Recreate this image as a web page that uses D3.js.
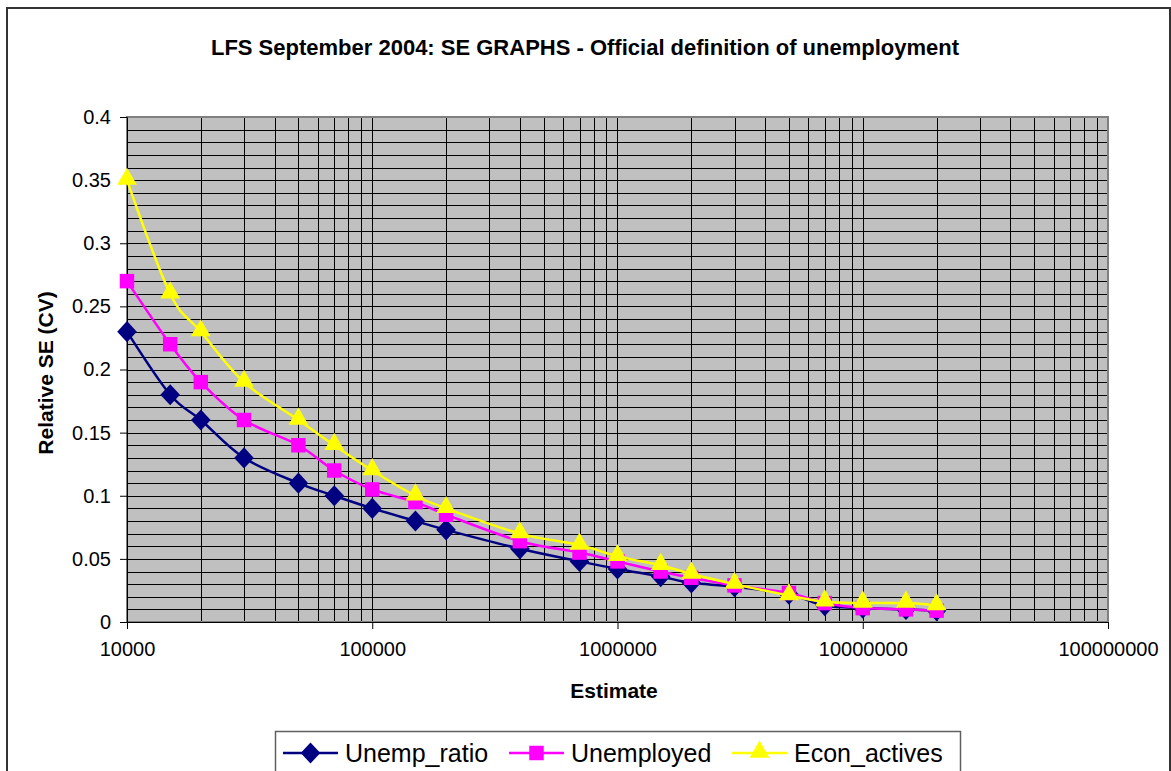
<!DOCTYPE html>
<html>
<head>
<meta charset="utf-8">
<script src="https://cdn.jsdelivr.net/npm/d3@7"></script>
<style>
  body { margin: 0; background: #fff; }
  text { font-family: Arial, "Liberation Sans", sans-serif; }
</style>
</head>
<body>
<svg id="chart"></svg>
<script>
const estimates = [10000, 15000, 20000, 30000, 50000, 70000, 100000, 150000, 200000, 400000,
  700000, 1000000, 1500000, 2000000, 3000000, 5000000, 7000000, 10000000, 15000000, 20000000];
const unempRatio = [0.23, 0.18, 0.16, 0.13, 0.11, 0.10, 0.09, 0.08, 0.073, 0.058,
  0.048, 0.042, 0.036, 0.031, 0.028, 0.022, 0.013, 0.011, 0.010, 0.009];
const unemployed = [0.27, 0.22, 0.19, 0.16, 0.14, 0.12, 0.105, 0.095, 0.085, 0.064,
  0.055, 0.048, 0.040, 0.035, 0.029, 0.023, 0.015, 0.011, 0.010, 0.009];
const econActives = [0.35, 0.26, 0.23, 0.19, 0.16, 0.14, 0.12, 0.10, 0.09, 0.07,
  0.061, 0.052, 0.045, 0.038, 0.030, 0.021, 0.016, 0.015, 0.015, 0.013];
const seriesNames = ['Unemp_ratio', 'Unemployed', 'Econ_actives'];
const xTicks = [1e4, 1e5, 1e6, 1e7, 1e8];
const yTicks = [0, 0.05, 0.1, 0.15, 0.2, 0.25, 0.3, 0.35, 0.4];

const width = 1171;
const height = 771;
const marginLeft = 127;
const marginRight = 63;
const marginTop = 117;
const marginBottom = 149;

const svg = d3.select('#chart')
  .attr('width', width)
  .attr('height', height);

// outer chart frame
svg.append('rect')
  .attr('x', 7).attr('y', 8)
  .attr('width', 1163).attr('height', 780)
  .attr('fill', '#fff')
  .attr('stroke', '#333')
  .attr('stroke-width', 2);

const x = d3.scaleLog()
  .domain([1e4, 1e8])
  .range([marginLeft, width - marginRight]);

const y = d3.scaleLinear()
  .domain([0, 0.4])
  .range([height - marginBottom, marginTop]);

// plot area
svg.append('rect')
  .attr('x', x(1e4)).attr('y', y(0.4))
  .attr('width', x(1e8) - x(1e4))
  .attr('height', y(0) - y(0.4))
  .attr('fill', '#c0c0c0');

// grid: every 0.01 across, every 1..9 x decade up
const hGrid = d3.range(1, 40).map(i => i / 100);
const vGrid = [];
[1e4, 1e5, 1e6, 1e7].forEach(dec => {
  for (let k = 1; k <= 9; k++) if (dec * k > 1e4) vGrid.push(dec * k);
});

const grid = svg.append('g').attr('stroke', '#000').attr('stroke-width', 1);
grid.selectAll('.h').data(hGrid).join('line')
  .attr('x1', x(1e4)).attr('x2', x(1e8))
  .attr('y1', d => Math.round(y(d)) + 0.5)
  .attr('y2', d => Math.round(y(d)) + 0.5);
grid.selectAll('.v').data(vGrid).join('line')
  .attr('y1', y(0)).attr('y2', y(0.4))
  .attr('x1', d => Math.round(x(d)) + 0.5)
  .attr('x2', d => Math.round(x(d)) + 0.5);

svg.append('rect')
  .attr('x', x(1e4)).attr('y', y(0.4))
  .attr('width', x(1e8) - x(1e4))
  .attr('height', y(0) - y(0.4))
  .attr('fill', 'none')
  .attr('stroke', '#808080')
  .attr('stroke-width', 2);

// axes
const yAxis = svg.append('g')
  .attr('transform', `translate(${x(1e4)},0)`)
  .call(d3.axisLeft(y).tickValues(yTicks).tickSize(7).tickPadding(9)
    .tickFormat(d => String(+d.toFixed(2))));
const xAxis = svg.append('g')
  .attr('transform', `translate(0,${y(0)})`)
  .call(d3.axisBottom(x).tickValues(xTicks).tickSize(7).tickPadding(13)
    .tickFormat(d3.format('d')));
[xAxis, yAxis].forEach(a => {
  a.select('.domain').attr('stroke', '#000');
  a.selectAll('.tick line').attr('stroke', '#000');
  a.selectAll('.tick text').attr('font-size', 20).attr('fill', '#000')
    .style('font-family', 'Arial, "Liberation Sans", sans-serif');
});

// titles
svg.append('text')
  .attr('x', 585).attr('y', 55)
  .attr('text-anchor', 'middle')
  .attr('font-size', 22).attr('font-weight', 'bold')
  .text('LFS September 2004: SE GRAPHS - Official definition of unemployment');

svg.append('text')
  .attr('x', 614).attr('y', 698)
  .attr('text-anchor', 'middle')
  .attr('font-size', 21).attr('font-weight', 'bold')
  .text('Estimate');

svg.append('text')
  .attr('transform', 'translate(53,373) rotate(-90)')
  .attr('text-anchor', 'middle')
  .attr('font-size', 21).attr('font-weight', 'bold')
  .text('Relative SE (CV)');

// series
const series = [
  { name: seriesNames[0], values: unempRatio, color: '#000080', symbol: d3.symbolDiamond, size: 130 },
  { name: seriesNames[1], values: unemployed, color: '#ff00ff', symbol: d3.symbolSquare, size: 210 },
  { name: seriesNames[2], values: econActives, color: '#ffff00', symbol: d3.symbolTriangle, size: 170 }
];

const line = d3.line()
  .x((d, i) => x(estimates[i]))
  .y(d => y(d))
  .curve(d3.curveCatmullRom.alpha(0));

// d3 diamond is narrow, stretch it sideways to the Excel shape
function markerTransform(s, cx, cy) {
  const sx = s.symbol === d3.symbolDiamond ? 1.6 : 1;
  const dy = s.symbol === d3.symbolTriangle ? -1 : 0;
  return `translate(${cx},${cy + dy}) scale(${sx},1)`;
}

series.forEach(s => {
  const g = svg.append('g');
  g.append('path')
    .attr('d', line(s.values))
    .attr('fill', 'none')
    .attr('stroke', s.color)
    .attr('stroke-width', 2.5);
  g.selectAll('path.m')
    .data(s.values)
    .join('path')
    .attr('class', 'm')
    .attr('d', d3.symbol().type(s.symbol).size(s.size)())
    .attr('transform', (d, i) => markerTransform(s, x(estimates[i]), y(d)))
    .attr('fill', s.color);
});

// legend
const legend = svg.append('g');
legend.append('rect')
  .attr('x', 275.5).attr('y', 731.5)
  .attr('width', 685).attr('height', 60)
  .attr('fill', '#fff')
  .attr('stroke', '#606060')
  .attr('stroke-width', 1.5);

const legendX = [283, 509, 732];
series.forEach((s, i) => {
  const lg = legend.append('g').attr('transform', `translate(${legendX[i]},753)`);
  lg.append('line')
    .attr('x1', 0).attr('x2', 55)
    .attr('stroke', s.color).attr('stroke-width', 2.5);
  lg.append('path')
    .attr('d', d3.symbol().type(s.symbol).size(s.size)())
    .attr('transform', markerTransform(s, 27.5, 0))
    .attr('fill', s.color);
  lg.append('text')
    .attr('x', 62).attr('y', 9)
    .attr('font-size', 25)
    .text(s.name);
});
</script>
</body>
</html>
